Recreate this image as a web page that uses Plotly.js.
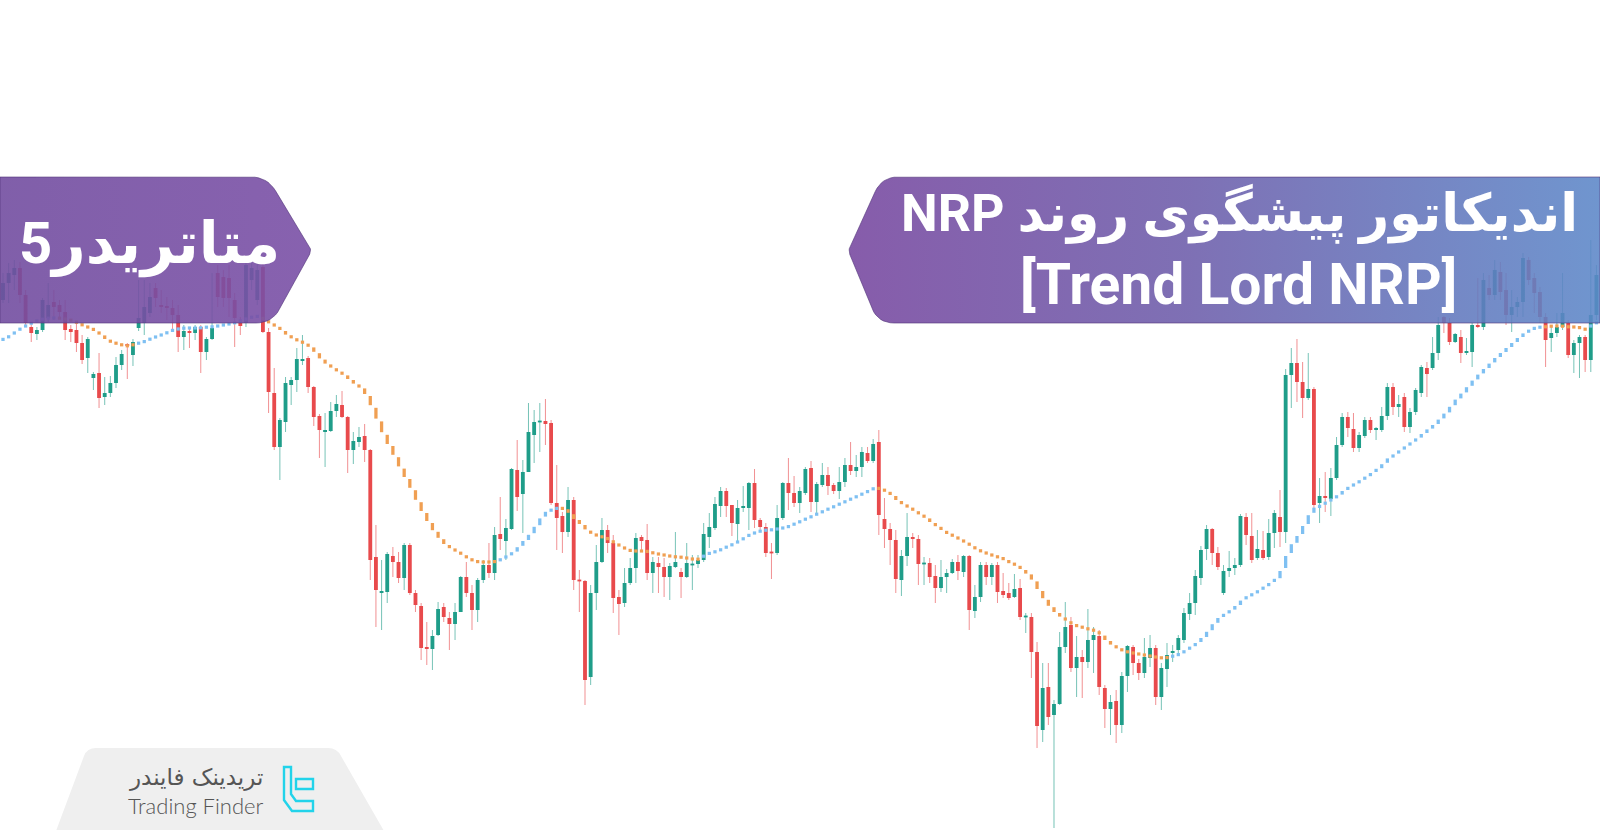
<!DOCTYPE html>
<html>
<head>
<meta charset="utf-8">
<script src="https://cdn.plot.ly/plotly-3.0.1.min.js"></script>
<style>html,body{margin:0;padding:0;background:#fff;}#chart{width:1600px;height:830px;}</style>
</head>
<body>
<div id="chart"></div>
<script>
// ---- Candle data (one candle per bar index) ----
const open = [
530,547,555,562,535,503,496,500,512,528,
525,518,501,500,487,472,452,457,433,437,
447,465,486,475,502,507,517,542,525,524,
522,515,493,499,497,503,478,491,557,553,
552,530,507,507,550,530,563,498,437,383,
408,445,450,469,472,443,414,398,399,419,
425,413,380,388,394,380,273,237,238,274,
268,252,285,237,224,183,181,195,223,212,
206,218,253,237,220,250,265,257,296,289,
301,360,336,358,395,408,409,407,327,314,
298,330,250,249,153,237,268,300,287,233,
227,247,262,293,290,257,267,263,253,263,
258,253,265,266,270,293,302,324,339,325,
306,322,322,347,310,303,278,277,312,347,
337,327,337,362,328,345,355,345,339,348,
365,359,363,377,369,388,311,301,290,250,
274,293,291,266,267,254,242,253,257,268,
258,274,219,233,265,253,265,239,237,233,
242,213,213,178,100,143,115,126,183,205,
162,173,168,190,194,142,121,129,105,154,
183,167,157,172,182,133,161,177,180,190,
216,227,252,281,301,277,237,259,262,265,
313,294,272,280,273,297,313,298,455,467,
448,432,441,327,334,331,352,385,413,401,
382,394,410,400,400,414,443,423,433,403,
418,437,462,462,477,513,507,488,493,477,
478,505,503,542,535,558,540,515,523,528,
570,552,538,513,492,497,503,507,475,487,
493,470,515];
const high = [
557,567,570,568,540,508,503,532,547,540,
530,530,505,508,495,493,458,477,453,454,
473,480,487,491,550,550,547,547,540,533,
530,525,505,503,505,505,493,557,565,560,
565,537,513,570,568,568,570,502,462,412,
453,453,482,495,474,444,416,417,428,435,
439,414,398,403,406,381,305,270,278,283,
278,287,287,240,227,208,200,228,227,218,
227,254,268,245,252,270,287,303,333,311,
362,390,370,427,420,427,431,410,365,318,
343,333,260,250,245,285,312,305,295,240,
262,272,297,295,306,273,273,272,267,298,
262,287,275,275,307,317,333,343,342,325,
330,344,348,361,312,307,287,325,348,372,
354,343,363,369,348,367,363,347,363,372,
388,375,383,383,391,400,332,307,300,280,
317,297,295,273,272,265,270,261,271,275,
275,275,245,268,268,267,268,257,247,256,
251,217,217,188,167,167,130,198,228,213,
194,180,221,203,200,145,135,140,158,185,
185,171,192,195,185,167,187,185,195,222,
237,260,284,305,302,283,265,279,272,316,
317,317,300,299,311,320,340,461,482,491,
468,477,443,352,358,362,393,417,418,417,
398,413,413,403,423,447,447,435,437,422,
442,465,468,493,513,514,512,497,500,492,
507,552,557,555,570,568,557,540,533,577,
573,557,543,517,503,517,557,510,490,495,
495,590,565];
const low = [
527,527,540,527,503,488,490,498,508,510,
512,490,488,478,466,457,440,422,425,433,
442,460,451,464,499,495,513,523,517,510,
500,478,480,482,490,457,470,490,523,523,
513,483,495,503,540,525,497,417,380,350,
398,425,438,465,437,404,372,363,398,413,
412,357,366,383,368,250,203,200,227,253,
247,240,235,218,170,165,160,194,208,180,
190,218,233,200,208,247,252,250,280,270,
300,319,297,358,367,378,385,325,280,277,
293,240,218,125,145,220,267,277,217,195,
223,245,247,280,250,237,237,233,230,262,
232,252,240,262,268,282,300,313,313,294,
287,318,300,302,300,273,251,275,310,320,
323,317,335,318,317,343,335,336,331,343,
355,353,353,367,367,295,282,265,237,234,
264,282,245,245,247,227,238,237,256,250,
253,200,212,228,245,245,227,232,230,232,
210,197,152,82,88,105,2,125,177,158,
133,132,162,157,135,102,95,87,97,138,
155,150,152,163,125,120,143,168,175,187,
210,215,245,270,265,260,235,253,255,263,
285,267,270,270,270,282,283,287,422,428,
412,430,320,307,318,314,350,383,393,378,
378,392,397,390,398,410,415,413,398,397,
415,433,433,460,470,497,485,487,467,475,
463,502,500,530,530,530,505,498,513,513,
545,517,507,463,478,493,500,472,457,452,
458,458,510];
const close = [
547,557,562,535,507,497,500,530,525,523,
518,500,498,487,470,491,456,432,437,447,
465,476,484,488,512,523,533,532,523,522,
515,493,499,497,503,478,491,502,533,532,
532,512,504,565,562,560,498,438,383,410,
447,450,471,471,443,413,400,400,419,426,
413,380,389,393,380,270,240,239,276,268,
252,285,237,225,182,181,194,221,213,206,
218,253,237,220,250,265,257,295,291,302,
361,333,358,398,408,409,406,327,312,298,
330,250,249,150,237,268,300,287,232,226,
247,262,292,289,257,268,263,253,264,268,
253,267,266,270,296,303,326,339,324,307,
322,324,347,310,303,277,277,312,347,337,
327,339,361,328,346,355,344,339,348,365,
359,363,378,369,386,315,301,290,251,274,
293,291,266,267,253,242,253,257,268,259,
274,220,233,265,253,265,238,235,232,241,
213,214,178,104,142,113,126,183,203,162,
173,168,190,195,143,121,128,105,154,184,
167,157,173,182,133,162,175,179,192,217,
227,254,280,301,277,263,259,262,265,314,
295,270,281,272,297,317,298,455,467,448,
432,441,325,334,332,352,385,413,402,382,
395,410,400,402,414,443,423,426,403,418,
440,463,456,477,505,507,488,496,477,479,
505,503,550,535,560,538,515,523,528,572,
550,537,513,490,497,503,517,475,487,493,
470,515,555];

// ---- Trend Lord NRP indicator line and its direction (U = up / blue, D = down / orange) ----
const nrpLine = [
490,493,497,501,504,507,509,511,512,512,
512,511,510,508,505,503,501,497,493,488,
487,485,484,485,487,488,491,493,495,497,
500,501,502,502,502,502,503,503,504,505,
506,507,509,511,513,514,512,508,505,502,
497,493,490,488,485,481,474,468,464,460,
457,453,448,444,440,430,417,403,390,380,
368,357,347,335,323,313,303,295,288,283,
280,277,273,270,268,268,268,268,270,273,
276,280,287,292,300,308,317,320,322,322,
320,313,308,303,297,295,293,292,288,285,
282,279,279,279,279,277,276,275,274,273,
273,272,271,270,274,277,278,280,283,285,
288,291,295,297,299,300,300,301,302,303,
306,308,311,313,316,318,321,323,326,328,
331,333,336,338,342,342,340,337,332,327,
324,321,317,314,310,305,302,297,295,292,
289,286,282,279,277,275,273,272,268,266,
263,258,254,245,235,227,220,215,211,207,
204,203,201,200,198,192,187,183,180,178,
177,176,175,174,173,172,172,174,175,178,
182,185,190,195,203,210,215,218,222,227,
233,235,238,242,245,250,253,268,283,290,
300,310,322,323,327,330,333,337,342,345,
348,352,355,360,363,370,374,378,382,386,
390,394,399,403,408,414,420,428,434,440,
447,453,459,464,470,475,480,485,490,495,
499,502,503,503,504,504,504,503,503,503,
500,504,508];
const nrpDir = (
"UUUUUUUUUU"+"DDDDDDDDDD"+"DDDDUUUUUU"+"UUUUUUUUUU"+"UUUUUUDDDD"+
"DDDDDDDDDD"+"DDDDDDDDDD"+"DDDDDDDDDD"+"DDDDDDDDUU"+"UUUUUUUUUD"+
"DDDDDDDDDD"+"DDDDDDDDDD"+"DDDDUUUUUU"+"UUUUUUUUUU"+"UUUUUUUUUU"+
"UUUUUDDDDD"+"DDDDDDDDDD"+"DDDDDDDDDD"+"DDDDDDDDDD"+"DDDDDDDDDD"+
"DDDDDDDUUU"+"UUUUUUUUUU"+"UUUUUUUUUU"+"UUUUUUUUUU"+"UUUUUUUUUU"+
"UUUUUUUUUU"+"UUUUUUUUUU"+"UUUDDDDDDD"+"DUU").split('');

// ---- Text ----
const leftBannerText = 'متاتریدر5';
const titleLine1 = '\u202Bاندیکاتور پیشگوی روند NRP\u202C';
const titleLine2 = '[Trend Lord NRP]';
const brandFa = 'تریدینک فایندر';
const brandEn = 'Trading Finder';

// ---- Styles ----
const UP = '#1f9d89', DOWN = '#e84a4c';
const UP_W = 'rgba(31,157,137,0.6)', DOWN_W = 'rgba(232,74,76,0.6)';
const NRP_UP = '#7fc0f2', NRP_DN = '#f09f52';

const n = open.length;
const xs = open.map((_, i) => i);
const isUp = xs.map(i => close[i] >= open[i]);

const wick = {
  type: 'bar', x: xs, base: low, y: xs.map(i => high[i] - low[i]),
  width: 0.18, marker: {color: xs.map(i => isUp[i] ? UP_W : DOWN_W), line: {width: 0}},
  hoverinfo: 'skip'
};
const bodyBase = [], bodyH = [];
xs.forEach(i => {
  let lo = Math.min(open[i], close[i]), hi = Math.max(open[i], close[i]);
  if (hi - lo < 1.8) { const m = (lo + hi) / 2; lo = m - 0.9; hi = m + 0.9; }
  bodyBase.push(lo); bodyH.push(hi - lo);
});
const body = {
  type: 'bar', x: xs, base: bodyBase, y: bodyH, width: 0.68,
  marker: {color: xs.map(i => isUp[i] ? UP : DOWN), line: {width: 0}},
  hoverinfo: 'skip'
};

// indicator drawn as short vertical dashes, one per bar
const dB = [], dH = [], dC = [];
xs.forEach(i => {
  const v = nrpLine[i];
  const p = i > 0 ? nrpLine[i - 1] : v;
  const q = i < n - 1 ? nrpLine[i + 1] : v;
  const a = v - 0.4 * (v - p), b = v + 0.4 * (q - v);
  let lo = Math.min(a, b, v), hi = Math.max(a, b, v);
  if (hi - lo < 3.2) { const m = (lo + hi) / 2; lo = m - 1.6; hi = m + 1.6; }
  dB.push(lo); dH.push(hi - lo); dC.push(nrpDir[i] === 'U' ? NRP_UP : NRP_DN);
});
const nrp = {
  type: 'bar', x: xs, base: dB, y: dH, width: 0.58,
  marker: {color: dC, line: {width: 0}}, hoverinfo: 'skip'
};

// rounded polygon helper for the banners (page pixel space on overlay axes)
function rounded(pts, radii) {
  const outX = [], outY = [];
  const m = pts.length;
  for (let k = 0; k < m; k++) {
    const V = pts[k], r = radii[k];
    if (!r) { outX.push(V[0]); outY.push(V[1]); continue; }
    const P = pts[(k - 1 + m) % m], N = pts[(k + 1) % m];
    const l1 = Math.hypot(P[0] - V[0], P[1] - V[1]), l2 = Math.hypot(N[0] - V[0], N[1] - V[1]);
    const A = [V[0] + (P[0] - V[0]) * r / l1, V[1] + (P[1] - V[1]) * r / l1];
    const B = [V[0] + (N[0] - V[0]) * r / l2, V[1] + (N[1] - V[1]) * r / l2];
    for (let s = 0; s <= 8; s++) {
      const t = s / 8;
      outX.push((1 - t) * (1 - t) * A[0] + 2 * (1 - t) * t * V[0] + t * t * B[0]);
      outY.push((1 - t) * (1 - t) * A[1] + 2 * (1 - t) * t * V[1] + t * t * B[1]);
    }
  }
  outX.push(outX[0]); outY.push(outY[0]);
  return {x: outX, y: outY};
}
const lb = rounded([[0,177],[267,177],[312,250],[272,323],[0,323]], [0,16,6,16,0]);
const rb = rounded([[1600,177],[882,177],[848,250],[878,323],[1600,323]], [0,16,6,16,0]);
const leftBanner = {
  type: 'scatter', mode: 'lines', x: lb.x, y: lb.y, xaxis: 'x2', yaxis: 'y2',
  fill: 'toself', fillcolor: 'rgba(120,80,165,0.9)',
  fillgradient: {type: 'horizontal', colorscale: [[0, 'rgba(114,77,160,0.9)'], [1, 'rgba(122,80,166,0.9)']]},
  line: {color: 'rgba(80,50,120,0.6)', width: 1}, hoverinfo: 'skip'
};
const rightBanner = {
  type: 'scatter', mode: 'lines', x: rb.x, y: rb.y, xaxis: 'x2', yaxis: 'y2',
  fill: 'toself', fillcolor: 'rgba(110,100,180,0.9)',
  fillgradient: {type: 'horizontal', colorscale: [[0, 'rgba(124,78,163,0.92)'], [0.45, 'rgba(112,96,172,0.9)'], [1, 'rgba(92,135,200,0.88)']]},
  line: {color: 'rgba(80,50,120,0.6)', width: 1}, hoverinfo: 'skip'
};

const W = 1600, H = 830;
const px = x => x / W, py = y => 1 - y / H;
const layout = {
  width: W, height: H, margin: {l: 0, r: 0, t: 0, b: 0},
  paper_bgcolor: '#ffffff', plot_bgcolor: '#ffffff',
  showlegend: false, barmode: 'overlay',
  xaxis: {range: [-0.53, 282.63], visible: false, fixedrange: true},
  yaxis: {range: [0, 830], visible: false, fixedrange: true},
  xaxis2: {range: [0, 1600], overlaying: 'x', visible: false, side: 'top'},
  yaxis2: {range: [830, 0], overlaying: 'y', visible: false, side: 'right'},
  shapes: [
    {type: 'path', xref: 'x2', yref: 'y2', layer: 'above',
     path: 'M 56 831 L 84 756 Q 87 748 96 748 L 328 748 Q 337 748 341 756 L 384 831 Z',
     fillcolor: '#efefef', line: {width: 0}},
    {type: 'path', xref: 'x2', yref: 'y2', layer: 'above',
     path: 'M 284 767 L 291 767 L 291 794 L 296 801 L 313 801 L 313 811 L 292 811 L 284 800 Z',
     line: {color: '#22d3ea', width: 2.4}},
    {type: 'path', xref: 'x2', yref: 'y2', layer: 'above',
     path: 'M 296 779 L 313 779 L 313 789 L 296 789 Z',
     line: {color: '#22d3ea', width: 2.4}}
  ],
  annotations: [
    {text: '<b>' + leftBannerText + '</b>', x: px(149), y: py(244), xref: 'paper', yref: 'paper',
     xanchor: 'center', yanchor: 'middle', showarrow: false,
     font: {family: 'Roboto, "DejaVu Sans", sans-serif', size: 58, color: '#ffffff'}},
    {text: '<b>' + titleLine1 + '</b>', x: px(1239), y: py(214), xref: 'paper', yref: 'paper',
     xanchor: 'center', yanchor: 'middle', showarrow: false,
     font: {family: 'Roboto, "DejaVu Sans", sans-serif', size: 52, color: '#ffffff'}},
    {text: '<b>' + titleLine2 + '</b>', x: px(1238), y: py(284), xref: 'paper', yref: 'paper',
     xanchor: 'center', yanchor: 'middle', showarrow: false,
     font: {family: 'Roboto, sans-serif', size: 57, color: '#ffffff'}},
    {text: brandFa, x: px(196), y: py(777), xref: 'paper', yref: 'paper',
     xanchor: 'center', yanchor: 'middle', showarrow: false,
     font: {family: '"DejaVu Sans", sans-serif', size: 23, color: '#555555'}},
    {text: brandEn, x: px(196), y: py(805), xref: 'paper', yref: 'paper',
     xanchor: 'center', yanchor: 'middle', showarrow: false,
     font: {family: 'Lato, sans-serif', size: 22, color: '#555555', weight: 300}}
  ]
};

Plotly.newPlot('chart', [wick, body, nrp, leftBanner, rightBanner], layout, {staticPlot: true, displayModeBar: false});
</script>
</body>
</html>
